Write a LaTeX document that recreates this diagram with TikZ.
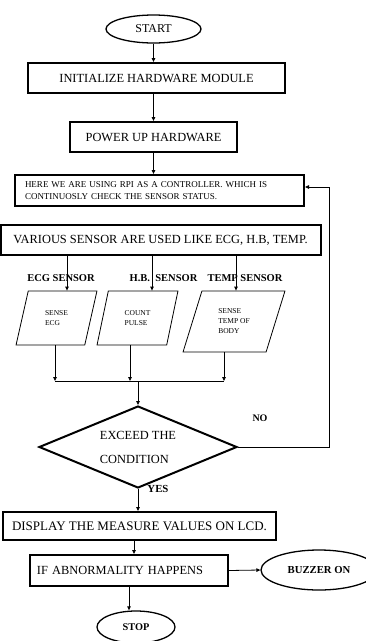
\documentclass[tikz,border=0pt]{standalone}
\usepackage{fontspec}
\setmainfont{Liberation Serif}
\usetikzlibrary{arrows.meta, positioning, shapes.geometric, calc}

\begin{document}
\begin{tikzpicture}[x=1pt, y=-1pt,
    procbox/.style={draw, line width=2pt, inner sep=2pt, font=\fontsize{12.4}{14}\selectfont},
    termbox/.style={draw, ellipse, line width=1.3pt, inner sep=0pt},
    databox/.style={draw, trapezium, trapezium stretches=true, line width=0.8pt, align=left, inner sep=1pt, font=\fontsize{7.5}{10}\selectfont},
    decbox/.style={draw, diamond, line width=2pt, inner sep=0pt, align=left, font=\fontsize{12.4}{24}\selectfont},
    sensorlabel/.style={font=\bfseries\fontsize{10.5}{12}\selectfont, inner sep=0pt},
    arrow/.style={-{Triangle[length=4pt, width=3.5pt]}, line width=0.8pt}]
        \useasboundingbox (0,0) rectangle (366,641);

        % Start and first steps
        \node[termbox, minimum width=95pt, minimum height=28pt, font=\fontsize{12}{14}\selectfont] (start) at (153.5,29) {START};
        \node[procbox, minimum width=257pt, minimum height=30pt] (init) at (156.5,78) {INITIALIZE HARDWARE MODULE};
        \node[procbox, minimum width=167pt, minimum height=30pt] (power) at (153.5,137) {POWER UP HARDWARE};
        \node[procbox, text width=269pt, inner xsep=10pt, minimum height=31pt, align=left, font=\fontsize{9}{12}\selectfont] (rpi) at (159.5,190.5) {HERE WE ARE USING RPI AS A CONTROLLER. WHICH IS\\CONTINUOSLY CHECK THE SENSOR STATUS.};
        \node[procbox, minimum width=320pt, minimum height=30pt] (sensors) at (160.5,240) {VARIOUS SENSOR ARE USED LIKE ECG, H.B, TEMP.};

        % Sensor names
        \node[sensorlabel] (ecglabel) at (61,278) {ECG SENSOR};
        \node[sensorlabel] (hblabel) at (163.5,278) {H.B.\ \ SENSOR};
        \node[sensorlabel] (templabel) at (245,278) {TEMP SENSOR};

        % Sensing steps
        \node[databox, minimum width=81pt, minimum height=54pt, trapezium left angle=72.5, trapezium right angle=107.5] (ecg) at (56.5,318) {SENSE\\ECG};
        \node[databox, minimum width=81pt, minimum height=54pt, trapezium left angle=72.5, trapezium right angle=107.5] (hb) at (137.5,318) {COUNT\\PULSE};
        \node[databox, minimum width=102pt, minimum height=61pt, trapezium left angle=70, trapezium right angle=110] (temp) at (234,321.5) {SENSE\\TEMP OF\\BODY};

        % Decision
        \node[decbox, minimum width=198pt, minimum height=82pt, aspect=2.4] (cond) at (138,447) {EXCEED THE\\CONDITION};
        \node[sensorlabel, font=\bfseries\fontsize{10}{12}\selectfont] (nolabel) at (260,418) {NO};
        \node[sensorlabel, font=\bfseries\fontsize{10.8}{12}\selectfont] (yeslabel) at (158,489) {YES};

        % Output steps
        \node[procbox, minimum width=273pt, minimum height=28pt, font=\fontsize{13}{15}\selectfont] (display) at (139.5,526) {DISPLAY THE MEASURE VALUES ON LCD.};
        \node[procbox, text width=184pt, inner xsep=7pt, minimum height=31pt, align=left] (abnorm) at (129,570.5) {IF ABNORMALITY HAPPENS};
        \node[termbox, minimum width=116pt, minimum height=40pt, font=\bfseries\fontsize{10.7}{12}\selectfont] (buzzer) at (319,570) {BUZZER ON};
        \node[termbox, minimum width=78pt, minimum height=32pt, font=\bfseries\fontsize{10.3}{12}\selectfont] (stop) at (136,627) {STOP};

        % Connector ends
        \coordinate (ecgin) at ($(ecg.center |- ecg.north)+(10.5,0)$);
        \coordinate (hbin) at ($(hb.center |- hb.north)+(14.5,0)$);
        \coordinate (tempin) at ($(temp.center |- temp.north)+(2,0)$);
        \coordinate (ecgout) at ($(ecg.center |- ecg.south)+(-1.5,0)$);
        \coordinate (hbout) at ($(hb.center |- hb.south)+(-7.5,0)$);
        \coordinate (tempout) at ($(temp.center |- temp.south)+(-10,0)$);
        \coordinate (bus) at (138,381);
        \coordinate (dispout) at ($(display.south)+(-5.5,0)$);

        % Connectors
        \draw[arrow] (start.south) -- (start.south |- init.north);
        \draw[arrow] (power.north |- init.south) -- (power.north);
        \draw[arrow] (power.south) -- (power.south |- rpi.north);
        \draw[arrow] (sensors.south -| ecgin) -- (ecgin);
        \draw[arrow] (sensors.south -| hbin) -- (hbin);
        \draw[arrow] (sensors.south -| tempin) -- (tempin);
        \draw[arrow] (ecgout) -- (ecgout |- bus);
        \draw[arrow] (hbout) -- (hbout |- bus);
        \draw[arrow] (tempout) -- (tempout |- bus);
        \draw[line width=0.8pt] (ecgout |- bus) -- (tempout |- bus);
        \draw[arrow] (bus) -- (cond.north);
        \draw[arrow] (cond.east) -- ++(91,0) |- ($(rpi.east)+(0,-3.5)$);
        \draw[arrow] (cond.south) -- (cond.south |- display.north);
        \draw[arrow] (dispout) -- (dispout |- abnorm.north);
        \draw[arrow] (abnorm.east) -- (buzzer.west);
        \draw[arrow] (abnorm.south) -- (abnorm.south |- stop.north);
\end{tikzpicture}
\end{document}
